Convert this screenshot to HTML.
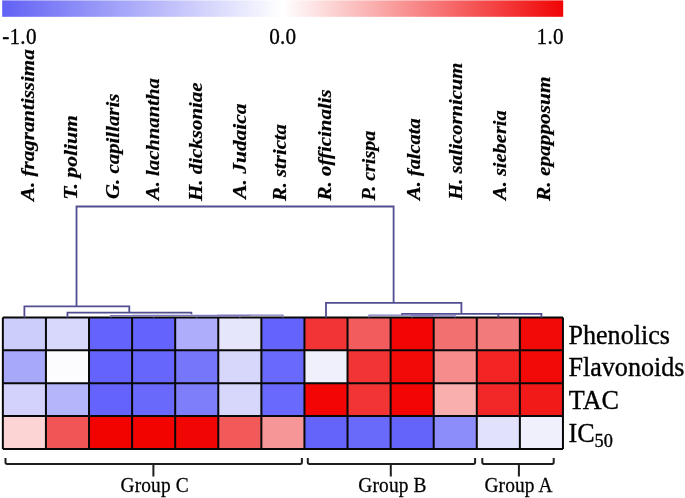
<!DOCTYPE html><html><head><meta charset="utf-8"><style>
html,body{margin:0;padding:0;background:#fff;}body{width:685px;height:498px;overflow:hidden;}
svg{display:block;font-family:"Liberation Serif",serif;will-change:transform;}
</style></head><body>
<svg width="685" height="498" viewBox="0 0 685 498">
<defs><linearGradient id="g" x1="0" y1="0" x2="1" y2="0"><stop offset="0" stop-color="rgb(98,98,245)"/><stop offset="0.5" stop-color="rgb(255,255,255)"/><stop offset="1" stop-color="rgb(240,5,5)"/></linearGradient></defs>
<rect x="2.2" y="0.4" width="561" height="16.4" fill="url(#g)"/>
<g font-size="21.2" fill="#000" stroke="#000" stroke-width="0.3">
<text transform="translate(2.2 43.8) scale(1 1.06)" letter-spacing="0.25">-1.0</text>
<text transform="translate(269.3 43.8) scale(1 1.06)" letter-spacing="0.2">0.0</text>
<text transform="translate(536.6 43.8) scale(1 1.06)" letter-spacing="0.2">1.0</text>
</g>
<g font-size="19.5" font-weight="bold" font-style="italic" fill="#000" stroke="#000" stroke-width="0.2">
<text transform="translate(33.69,200.92) rotate(-90) scale(1.077,1)">A. fragrantissima</text>
<text transform="translate(76.58,199.71) rotate(-90) scale(1.111,1)">T. polium</text>
<text transform="translate(118.66,198.97) rotate(-90) scale(1.069,1)">G. capillaris</text>
<text transform="translate(158.75,200.04) rotate(-90) scale(1.061,1)">A. lachnantha</text>
<text transform="translate(202.43,201.10) rotate(-90) scale(1.075,1)">H. dicksoniae</text>
<text transform="translate(245.52,198.70) rotate(-90) scale(1.099,1)">A. Judaica</text>
<text transform="translate(286.20,201.10) rotate(-90) scale(1.062,1)">R. stricta</text>
<text transform="translate(331.49,200.50) rotate(-90) scale(1.074,1)">R. officinalis</text>
<text transform="translate(375.37,200.50) rotate(-90) scale(1.028,1)">P. crispa</text>
<text transform="translate(420.26,199.95) rotate(-90) scale(1.047,1)">A. falcata</text>
<text transform="translate(461.74,199.70) rotate(-90) scale(1.054,1)">H. salicornicum</text>
<text transform="translate(505.63,199.95) rotate(-90) scale(1.049,1)">A. sieberia</text>
<text transform="translate(549.91,201.00) rotate(-90) scale(1.095,1)">R. epapposum</text>
</g>
<rect x="2.85" y="317.40" width="43.09" height="32.88" fill="rgb(205,205,252)"/>
<rect x="45.94" y="317.40" width="43.09" height="32.88" fill="rgb(216,216,252)"/>
<rect x="89.02" y="317.40" width="43.09" height="32.88" fill="rgb(100,100,253)"/>
<rect x="132.10" y="317.40" width="43.09" height="32.88" fill="rgb(100,100,253)"/>
<rect x="175.19" y="317.40" width="43.09" height="32.88" fill="rgb(173,173,251)"/>
<rect x="218.28" y="317.40" width="43.09" height="32.88" fill="rgb(229,229,252)"/>
<rect x="261.36" y="317.40" width="43.09" height="32.88" fill="rgb(100,100,253)"/>
<rect x="304.45" y="317.40" width="43.09" height="32.88" fill="rgb(242,52,52)"/>
<rect x="347.53" y="317.40" width="43.09" height="32.88" fill="rgb(242,92,92)"/>
<rect x="390.62" y="317.40" width="43.09" height="32.88" fill="rgb(242,5,3)"/>
<rect x="433.70" y="317.40" width="43.09" height="32.88" fill="rgb(242,112,112)"/>
<rect x="476.79" y="317.40" width="43.09" height="32.88" fill="rgb(243,122,122)"/>
<rect x="519.87" y="317.40" width="43.09" height="32.88" fill="rgb(242,10,8)"/>
<rect x="2.85" y="350.27" width="43.09" height="32.88" fill="rgb(168,168,251)"/>
<rect x="45.94" y="350.27" width="43.09" height="32.88" fill="rgb(252,251,253)"/>
<rect x="89.02" y="350.27" width="43.09" height="32.88" fill="rgb(100,100,253)"/>
<rect x="132.10" y="350.27" width="43.09" height="32.88" fill="rgb(102,102,253)"/>
<rect x="175.19" y="350.27" width="43.09" height="32.88" fill="rgb(118,118,251)"/>
<rect x="218.28" y="350.27" width="43.09" height="32.88" fill="rgb(215,215,252)"/>
<rect x="261.36" y="350.27" width="43.09" height="32.88" fill="rgb(105,105,253)"/>
<rect x="304.45" y="350.27" width="43.09" height="32.88" fill="rgb(240,240,253)"/>
<rect x="347.53" y="350.27" width="43.09" height="32.88" fill="rgb(242,52,52)"/>
<rect x="390.62" y="350.27" width="43.09" height="32.88" fill="rgb(242,10,8)"/>
<rect x="433.70" y="350.27" width="43.09" height="32.88" fill="rgb(246,140,140)"/>
<rect x="476.79" y="350.27" width="43.09" height="32.88" fill="rgb(242,36,36)"/>
<rect x="519.87" y="350.27" width="43.09" height="32.88" fill="rgb(242,10,8)"/>
<rect x="2.85" y="383.15" width="43.09" height="32.88" fill="rgb(210,210,252)"/>
<rect x="45.94" y="383.15" width="43.09" height="32.88" fill="rgb(181,181,251)"/>
<rect x="89.02" y="383.15" width="43.09" height="32.88" fill="rgb(100,100,253)"/>
<rect x="132.10" y="383.15" width="43.09" height="32.88" fill="rgb(105,105,252)"/>
<rect x="175.19" y="383.15" width="43.09" height="32.88" fill="rgb(126,126,251)"/>
<rect x="218.28" y="383.15" width="43.09" height="32.88" fill="rgb(215,215,252)"/>
<rect x="261.36" y="383.15" width="43.09" height="32.88" fill="rgb(105,105,253)"/>
<rect x="304.45" y="383.15" width="43.09" height="32.88" fill="rgb(242,5,3)"/>
<rect x="347.53" y="383.15" width="43.09" height="32.88" fill="rgb(242,52,52)"/>
<rect x="390.62" y="383.15" width="43.09" height="32.88" fill="rgb(242,5,3)"/>
<rect x="433.70" y="383.15" width="43.09" height="32.88" fill="rgb(250,175,175)"/>
<rect x="476.79" y="383.15" width="43.09" height="32.88" fill="rgb(242,40,40)"/>
<rect x="519.87" y="383.15" width="43.09" height="32.88" fill="rgb(242,26,24)"/>
<rect x="2.85" y="416.02" width="43.09" height="32.88" fill="rgb(252,212,212)"/>
<rect x="45.94" y="416.02" width="43.09" height="32.88" fill="rgb(242,85,85)"/>
<rect x="89.02" y="416.02" width="43.09" height="32.88" fill="rgb(242,3,0)"/>
<rect x="132.10" y="416.02" width="43.09" height="32.88" fill="rgb(242,3,0)"/>
<rect x="175.19" y="416.02" width="43.09" height="32.88" fill="rgb(242,6,4)"/>
<rect x="218.28" y="416.02" width="43.09" height="32.88" fill="rgb(242,90,90)"/>
<rect x="261.36" y="416.02" width="43.09" height="32.88" fill="rgb(246,150,150)"/>
<rect x="304.45" y="416.02" width="43.09" height="32.88" fill="rgb(100,100,250)"/>
<rect x="347.53" y="416.02" width="43.09" height="32.88" fill="rgb(105,105,250)"/>
<rect x="390.62" y="416.02" width="43.09" height="32.88" fill="rgb(100,100,250)"/>
<rect x="433.70" y="416.02" width="43.09" height="32.88" fill="rgb(140,140,250)"/>
<rect x="476.79" y="416.02" width="43.09" height="32.88" fill="rgb(225,225,252)"/>
<rect x="519.87" y="416.02" width="43.09" height="32.88" fill="rgb(240,240,253)"/>
<path d="M2.85 317.40V448.90 M45.94 317.40V448.90 M89.02 317.40V448.90 M132.10 317.40V448.90 M175.19 317.40V448.90 M218.28 317.40V448.90 M261.36 317.40V448.90 M304.45 317.40V448.90 M347.53 317.40V448.90 M390.62 317.40V448.90 M433.70 317.40V448.90 M476.79 317.40V448.90 M519.87 317.40V448.90 M562.96 317.40V448.90 M2.85 317.40H562.96 M2.85 350.27H562.96 M2.85 383.15H562.96 M2.85 416.02H562.96 M2.85 448.90H562.96" stroke="#080808" stroke-width="2" fill="none"/>
<path d="M76.5 306.3V206.5H393.6V302.8 M24.39 317.40V306.3H129.3V312.6 M67.48 317.40V312.6H191.4V314.2 M325.99 317.40V302.8H461.4V313.8 M402.1 315.2V313.8H520.6 M498.33 317.40V313.9H541.41V317.40" stroke="rgb(82,78,145)" stroke-width="1.8" fill="none"/>
<path d="M132.11 315.4H250.59 M110.56 317.40V315.6H153.65V317.40 M196.73 317.40V315.8H239.82V317.40 M218.27 315.8V315.2H282.90V317.40 M369.07 317.40V315.2H433.70 M412.16 317.40V315.8H455.24V317.40" stroke="rgb(125,120,190)" stroke-width="1.3" fill="none"/>
<g font-size="26.1" fill="#000" stroke="#000" stroke-width="0.35">
<text transform="translate(568.5 343.5) scale(1 1.06)">Phenolics</text>
<text transform="translate(568.5 376.3) scale(1 1.06)">Flavonoids</text>
<text transform="translate(568.8 409.3) scale(1 1.06)">TAC</text>
<text transform="translate(568.5 441.9) scale(1 1.06)">IC<tspan font-size="18.3" dy="4.5">50</tspan></text>
</g>
<path d="M5.5 458V462.3Q5.5 464 7.2 464H300.2 Q301.9 464 301.9 462.3V458 M153.4 464V476.5 M307.8 458V462.3Q307.8 464 309.5 464H473.4 Q475.1 464 475.1 462.3V458 M390.8 464V476.5 M482.3 458V462.3Q482.3 464 484.0 464H552.0 Q553.7 464 553.7 462.3V458 M518.9 464V476.5" stroke="rgb(30,30,30)" stroke-width="2" fill="none"/>
<g font-size="19.4" fill="#000" letter-spacing="0.15" stroke="#000" stroke-width="0.25">
<text transform="translate(120.5 491.8) scale(1 1.04)">Group C</text>
<text transform="translate(358.3 491.8) scale(1 1.04)">Group B</text>
<text transform="translate(484.4 491.8) scale(1 1.04)">Group A</text>
</g>
</svg></body></html>
